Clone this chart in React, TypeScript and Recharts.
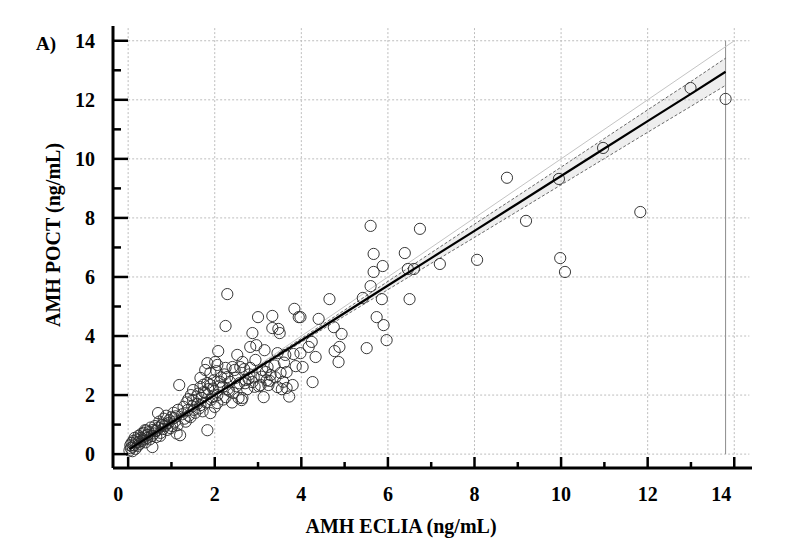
import React from "react";
import {
    ComposedChart,
    Area,
    Line,
    Scatter,
    XAxis,
    YAxis,
    ReferenceLine,
} from "recharts";

// AMH ECLIA (x) vs AMH POCT (y), ng/mL
const eclia = [
    0.03, 0.05, 0.06, 0.08, 0.1, 0.1, 0.12, 0.14, 0.15, 0.17, 0.18, 0.2, 0.22, 0.24, 0.25, 0.27,
    0.3, 0.3, 0.32, 0.35, 0.36, 0.38, 0.39, 0.4, 0.42, 0.44, 0.45, 0.48, 0.5, 0.52, 0.55, 0.56,
    0.58, 0.6, 0.62, 0.65, 0.66, 0.69, 0.7, 0.72, 0.75, 0.78, 0.79, 0.8, 0.82, 0.85, 0.88, 0.9,
    0.93, 0.95, 1.0, 1.02, 1.05, 1.08, 1.1, 1.12, 1.15, 1.18, 1.2,
    1.25, 1.28, 1.3, 1.35, 1.37, 1.39, 1.4, 1.44, 1.45, 1.5, 1.5, 1.52, 1.55, 1.6, 1.62, 1.67,
    1.67, 1.67, 1.7, 1.72, 1.75, 1.78, 1.78, 1.8, 1.83, 1.83, 1.83, 1.85, 1.9, 1.9, 1.9, 1.92,
    1.94, 1.98, 2.0, 2.01, 2.04, 2.06, 2.06, 2.06, 2.08, 2.1, 2.15, 2.18, 2.2, 2.25, 2.25, 2.25,
    2.29, 2.29, 2.3, 2.35, 2.4, 2.41, 2.43, 2.48, 2.5,
    2.52, 2.55, 2.59, 2.62, 2.64, 2.64, 2.7, 2.71, 2.75, 2.8, 2.82, 2.82, 2.87, 2.87, 2.9, 2.94,
    2.96, 3.0, 3.02, 3.06, 3.1, 3.13, 3.15, 3.2, 3.22, 3.24, 3.29, 3.33, 3.33, 3.38, 3.45, 3.45,
    3.47, 3.5, 3.52, 3.55, 3.6, 3.63, 3.66, 3.66, 3.72, 3.8, 3.82, 3.84, 3.87, 3.94, 3.98, 3.98,
    4.03, 4.17, 4.24, 4.26, 4.33, 4.4, 4.65, 4.75, 4.77, 4.86, 4.88, 4.93,
    5.42, 5.51, 5.6, 5.6, 5.67, 5.67, 5.74, 5.86, 5.88, 5.9, 5.97, 6.39, 6.46, 6.5, 6.6, 6.74,
    7.2, 8.06, 8.75, 9.19, 9.95, 9.98, 10.09, 10.97, 11.83, 12.99, 13.8,
    // extra points in the crowded middle of the cloud
    0.62, 0.74, 0.86, 0.98, 1.06, 1.14, 1.33, 1.48, 1.58, 1.64, 1.74, 1.96, 2.12, 2.22, 2.33,
    2.46, 2.57, 2.68, 2.78, 2.92, 3.08, 3.18, 3.27, 3.4, 3.58,
];
const poct = [
    0.12, 0.3, 0.2, 0.38, 0.1, 0.25, 0.45, 0.3, 0.55, 0.18, 0.4, 0.5, 0.28, 0.62, 0.42, 0.35,
    0.55, 0.68, 0.45, 0.5, 0.72, 0.6, 0.81, 0.4, 0.8, 0.55, 0.65, 0.75, 0.5, 0.9, 0.62, 0.24,
    0.82, 0.7, 0.95, 0.58, 0.8, 1.39, 0.9, 1.1, 0.72, 1.0, 0.98, 0.85, 1.2, 0.95, 1.3, 0.82,
    1.05, 1.15, 1.25, 0.95, 1.4, 1.1, 1.28, 0.7, 1.5, 2.34, 0.64,
    1.35, 1.6, 1.2, 1.75, 1.49, 1.86, 1.3, 1.25, 2.0, 1.83, 2.17, 1.5, 1.4, 1.7, 2.05, 1.66,
    2.27, 2.58, 1.9, 1.45, 2.1, 2.07, 2.85, 1.75, 0.81, 2.41, 3.08, 2.2, 1.39, 2.34, 2.75, 1.85,
    1.93, 2.5, 1.6, 3.12, 2.81, 1.73, 2.0, 3.02, 3.49, 2.3, 2.6, 2.27, 1.85, 1.93, 2.92, 4.34,
    2.61, 5.42, 2.2, 2.45, 1.75, 2.95, 2.07, 2.58, 2.3,
    3.36, 1.9, 2.95, 1.83, 1.9, 3.12, 2.4, 2.51, 2.2, 2.7, 2.92, 3.63, 2.44, 4.1, 2.6, 3.19,
    3.69, 4.64, 2.3, 2.34, 2.85, 1.93, 3.52, 2.5, 2.95, 2.34, 2.68, 4.27, 4.68, 3.0, 2.27, 3.42,
    4.24, 4.1, 2.75, 2.2, 3.1, 3.36, 2.24, 2.78, 1.95, 2.34, 3.39, 4.92, 2.98, 4.64, 3.42, 4.64,
    2.95, 3.63, 3.8, 2.44, 3.29, 4.58, 5.25, 4.3, 3.49, 3.12, 3.63, 4.07,
    5.29, 3.59, 5.69, 7.73, 6.17, 6.78, 4.64, 5.25, 6.37, 4.37, 3.86, 6.81, 6.27, 5.25, 6.27, 7.63,
    6.44, 6.58, 9.36, 7.9, 9.32, 6.64, 6.17, 10.37, 8.2, 12.4, 12.03,
    0.78, 0.62, 1.0, 0.88, 1.22, 0.98, 1.1, 1.62, 1.95, 1.55, 2.35, 2.22, 2.45, 2.7, 2.15,
    2.85, 2.4, 2.88, 2.55, 2.28, 2.62, 2.78, 2.48, 2.6, 2.45,
];

// regression line with its confidence band
const bandX = [0.03, 1, 2, 3, 4, 5, 6, 7, 8, 9, 10, 11, 12, 13, 13.8];
const fitY = [0.17, 1.07, 2.0, 2.92, 3.85, 4.78, 5.71, 6.64, 7.56, 8.49, 9.42, 10.35, 11.28, 12.2, 12.95];
const bandLow = [0.1, 1.02, 1.96, 2.88, 3.79, 4.68, 5.57, 6.46, 7.34, 8.23, 9.12, 10.01, 10.9, 11.78, 12.49];
const bandHigh = [0.24, 1.12, 2.04, 2.97, 3.92, 4.88, 5.85, 6.82, 7.79, 8.75, 9.72, 10.69, 11.66, 12.62, 13.41];

const ticks = [0, 1, 2, 3, 4, 5, 6, 7, 8, 9, 10, 11, 12, 13, 14];
const gridValues = [0, 2, 4, 6, 8, 10, 12, 14];

const points = eclia.map((x, i) => ({ x, y: poct[i] }));
const band = bandX.map((x, i) => ({
    x,
    fit: fitY[i],
    lo: bandLow[i],
    hi: bandHigh[i],
    range: [bandLow[i], bandHigh[i]],
}));

const FONT = "'Liberation Serif', 'Times New Roman', serif";
const X_MIN = -0.35;
const X_MAX = 14.41;
const Y_MIN = -0.47;
const Y_MAX = 14.5;
const GRID_X_END = 14.35;
const GRID_Y_END = 14.45;

// the first and last x labels sit a little left of their tick
const xLabelShift: Record<number, number> = { 0: -10, 14: -13 };

const YTick = (props: any) => {
    const { x, y, payload } = props;
    const major = payload.value % 2 === 0;
    return (
        <g>
            <line x1={x} x2={x + (major ? 15 : 8)} y1={y} y2={y} stroke="#000" strokeWidth={2.5} />
            {major && (
                <text
                    x={x - 18}
                    y={y}
                    dy="0.34em"
                    textAnchor="end"
                    fontFamily={FONT}
                    fontWeight="bold"
                    fontSize={20}
                    fill="#000"
                >
                    {payload.value}
                </text>
            )}
        </g>
    );
};

const XTick = (props: any) => {
    const { x, y, payload } = props;
    const major = payload.value % 2 === 0;
    return (
        <g>
            <line x1={x} x2={x} y1={y} y2={y - (major ? 11 : 6)} stroke="#000" strokeWidth={2.5} />
            {major && (
                <text
                    x={x + (xLabelShift[payload.value] || 0)}
                    y={y + 33}
                    textAnchor="middle"
                    fontFamily={FONT}
                    fontWeight="bold"
                    fontSize={20}
                    fill="#000"
                >
                    {payload.value}
                </text>
            )}
        </g>
    );
};

const Dot = (props: any) => (
    <circle cx={props.cx} cy={props.cy} r={5.6} fill="none" stroke="#2e2e2e" strokeWidth={0.95} />
);

export default function App() {
    return (
        <div style={{ position: "absolute", left: 0, top: 0, width: 800, height: 553, background: "#fff" }}>
            <ComposedChart
                width={800}
                height={553}
                data={band}
                margin={{ top: 26, right: 48, bottom: 55, left: 53 }}
            >
                <XAxis
                    type="number"
                    dataKey="x"
                    domain={[X_MIN, X_MAX]}
                    allowDataOverflow
                    ticks={ticks}
                    interval={0}
                    tickSize={0}
                    tickMargin={0}
                    tickLine={false}
                    tick={XTick}
                    height={30}
                    axisLine={{ stroke: "#000", strokeWidth: 3 }}
                />
                <YAxis
                    type="number"
                    domain={[Y_MIN, Y_MAX]}
                    allowDataOverflow
                    ticks={ticks}
                    interval={0}
                    tickSize={0}
                    tickMargin={0}
                    tickLine={false}
                    tick={YTick}
                    width={60}
                    axisLine={{ stroke: "#000", strokeWidth: 3 }}
                />

                {gridValues.map((v) => (
                    <ReferenceLine
                        key={`gx-${v}`}
                        segment={[{ x: v, y: 0 }, { x: v, y: GRID_Y_END }]}
                        stroke="#bdbdbd"
                        strokeDasharray="2 2"
                    />
                ))}
                {gridValues.map((v) => (
                    <ReferenceLine
                        key={`gy-${v}`}
                        segment={[{ x: 0, y: v }, { x: GRID_X_END, y: v }]}
                        stroke="#bdbdbd"
                        strokeDasharray="2 2"
                    />
                ))}
                <ReferenceLine segment={[{ x: 13.8, y: 0 }, { x: 13.8, y: 14 }]} stroke="#8c8c8c" />
                <ReferenceLine segment={[{ x: 0, y: 0 }, { x: 14, y: 14 }]} stroke="#c4c4c4" />

                <Area
                    dataKey="range"
                    type="linear"
                    fill="#eeeeee"
                    fillOpacity={1}
                    stroke="none"
                    isAnimationActive={false}
                />
                <Line dataKey="lo" type="linear" stroke="#444" strokeWidth={0.8} strokeDasharray="3 2" dot={false} isAnimationActive={false} />
                <Line dataKey="hi" type="linear" stroke="#444" strokeWidth={0.8} strokeDasharray="3 2" dot={false} isAnimationActive={false} />
                <Scatter data={points} dataKey="y" shape={Dot} isAnimationActive={false} />
                <Line
                    dataKey="fit"
                    type="linear"
                    stroke="#000"
                    strokeWidth={2.2}
                    dot={false}
                    isAnimationActive={false}
                    zIndex={700}
                />

                <text x={36} y={50} fontFamily={FONT} fontWeight="bold" fontSize={19} fill="#000">
                    A)
                </text>
                <text
                    x={401}
                    y={533}
                    textAnchor="middle"
                    fontFamily={FONT}
                    fontWeight="bold"
                    fontSize={20}
                    fill="#000"
                >
                    AMH ECLIA (ng/mL)
                </text>
                <text
                    x={60}
                    y={235}
                    transform="rotate(-90 60 235)"
                    textAnchor="middle"
                    fontFamily={FONT}
                    fontWeight="bold"
                    fontSize={20}
                    fill="#000"
                >
                    AMH POCT (ng/mL)
                </text>
            </ComposedChart>
        </div>
    );
}
